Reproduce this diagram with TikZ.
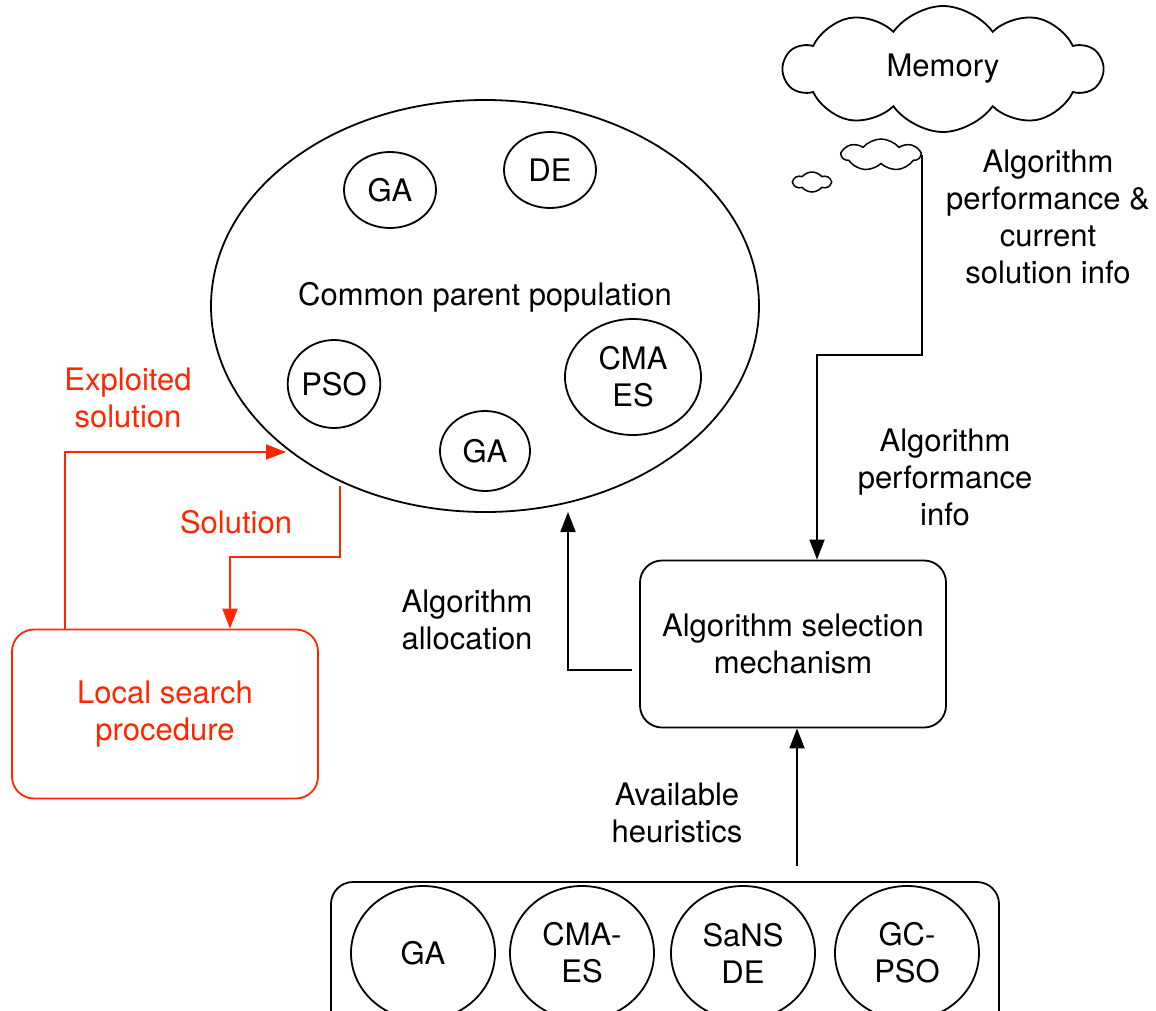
\documentclass[tikz,border=0pt]{standalone}
\usepackage{fontspec}
\setmainfont{TeX Gyre Heros}
\usetikzlibrary{shapes.geometric,shapes.symbols,arrows.meta}
\definecolor{lred}{RGB}{255,38,0}
\begin{document}
\begin{tikzpicture}[x=1pt,y=-1pt,
 every node/.style={font=\fontsize{31}{37}\selectfont, align=center, inner sep=0pt},
 ell/.style={draw, ellipse, line width=1.8pt, inner sep=0pt},
 arr/.style={line width=1.8pt, -{Triangle[length=20pt,width=15pt]}},
 rbox/.style={draw, rounded corners=22pt, line width=1.8pt, inner sep=0pt},
 cl/.style={draw, cloud, cloud ignores aspect, line width=1.8pt, inner sep=0pt}]
\clip (0,0) rectangle (1156,1011);
% common parent population
\node[ell, minimum width=548, minimum height=412] (cpp) at (485,306) {};
\node (cpptxt) at (485,297) {Common parent population};
\node[ell, minimum width=92, minimum height=76] (ga1) at (390,190) {GA};
\node[ell, minimum width=92, minimum height=76] (de) at (550,170) {DE};
\node[ell, minimum width=92, minimum height=88] (pso) at (334,384) {PSO};
\node[ell, minimum width=136, minimum height=116] (cma) at (633,377) {CMA\\ES};
\node[ell, minimum width=90, minimum height=80] (ga2) at (485,451) {GA};
% memory clouds
\node[cl, minimum width=318, minimum height=126, cloud puffs=10, cloud puff arc=110] (mem) at (943,69) {Memory};
\node[cl, minimum width=78, minimum height=32, cloud puffs=7, cloud puff arc=100, line width=1.5pt] (sc) at (881,155) {};
\node[cl, minimum width=37, minimum height=20, cloud puffs=6, cloud puff arc=100, line width=1.5pt] (tc) at (812,182) {};
% texts
\node (t1) at (1048,217) {Algorithm\\performance \&\\current\\solution info};
\node (t2) at (945,477) {Algorithm\\performance\\info};
\node (t3) at (467,620) {Algorithm\\allocation};
\node (t4) at (677,813) {Available\\heuristics};
\node[text=lred] (t5) at (128,398) {Exploited\\solution};
\node[text=lred] (t6) at (236,522) {Solution};
% selection mechanism
\node[rbox, minimum width=306, minimum height=167] (asm) at (793,644) {Algorithm selection\\mechanism};
% local search
\node[rbox, draw=lred, text=lred, minimum width=306, minimum height=169] (ls) at (165,714) {Local search\\procedure};
% heuristics box
\node[rbox, minimum width=668, minimum height=170] (hb) at (665,967) {};
\node[ell, minimum width=144, minimum height=134] (h1) at (423,953) {GA};
\node[ell, minimum width=144, minimum height=134] (h2) at (582,953) {CMA-\\ES};
\node[ell, minimum width=144, minimum height=134] (h3) at (743,953) {SaNS\\DE};
\node[ell, minimum width=144, minimum height=134] (h4) at (907,953) {GC-\\PSO};
% connectors
\coordinate (m1) at (817,355);
\draw[arr] (sc.east) |- (m1) -- (m1 |- asm.north);
\coordinate (a0) at (632,670);
\coordinate (a2) at (568,512);
\draw[arr] (a0) -| (a2);
\coordinate (hh) at (797,866);
\draw[arr] (hh) -- (hh |- asm.south);
\coordinate (e1) at (65,452);
\coordinate (e2) at (286,452);
\draw[arr, draw=lred] (e1 |- ls.north) -- (e1) -- (e2);
\coordinate (s0) at (340,486);
\coordinate (s1) at (230,557);
\draw[arr, draw=lred] (s0) |- (s1) -- (s1 |- ls.north);
\end{tikzpicture}
\end{document}
